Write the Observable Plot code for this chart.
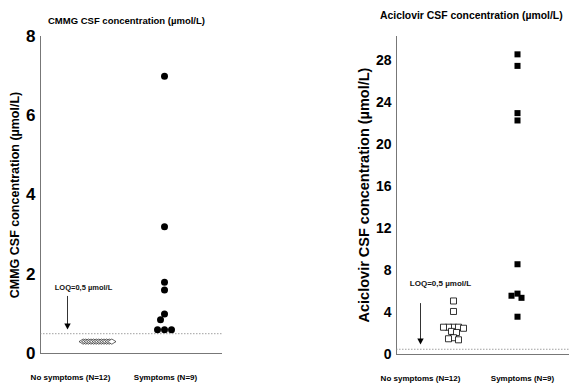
<!DOCTYPE html>
<html><head><meta charset="utf-8">
<script src="https://cdn.jsdelivr.net/npm/d3@7"></script>
<script src="https://cdn.jsdelivr.net/npm/@observablehq/plot@0.6"></script>
<style>
body{margin:0;background:#fff;font-family:"Liberation Sans",Arial,sans-serif;}
#wrap{position:relative;width:571px;height:383px;overflow:hidden;}
.pl{position:absolute;top:0;}
.ttl{position:absolute;font-weight:bold;white-space:nowrap;color:#000;}
.yl{position:absolute;font-weight:bold;white-space:nowrap;transform:translate(-50%,-50%) rotate(-90deg);}
</style></head>
<body><div id="wrap"></div>
<script>
// ---- data ----
const groups = ["No symptoms (N=12)", "Symptoms (N=9)"];
const cmmgNoSymptoms = [0.3,0.3,0.3,0.3,0.3,0.3,0.3,0.3,0.3,0.3,0.3,0.3]; // all < LOQ
const cmmgSymptoms = [7.0, 3.2, 1.8, 1.6, 1.0, 0.85, 0.6, 0.6, 0.6];
const aciNoSymptoms = [5.1, 4.1, 2.6, 2.6, 2.6, 2.6, 2.5, 2.2, 2.1, 1.6, 1.5, 1.4];
const aciSymptoms = [28.6, 27.5, 23.0, 22.3, 8.6, 5.8, 5.6, 5.4, 3.6];
const loq = 0.5;
const cmmgTicks = [0, 2, 4, 6, 8];
const aciTicks = [0, 4, 8, 12, 16, 20, 24, 28];
const loqLabel = "LOQ=0,5 µmol/L";
const cmmgTitle = "CMMG CSF concentration (µmol/L)";
const aciTitle = "Aciclovir CSF concentration (µmol/L)";
// annotation arrow (data units): [top, bottom]
const cmmgArrow = [1.44, 0.63];
const aciArrow = [4.85, 1.05];
const cmmgLoqTextY = 1.67;
const aciLoqTextY = 6.8;

const FONT = '"Liberation Sans", Arial, sans-serif';

// simple beeswarm offsets in pixels
function swarm(vals, k, d) {
  const placed = [];
  return vals.map(v => {
    const y = v * k;
    for (let s = 0; s < 400; s++) {
      const off = s === 0 ? 0 : (s % 2 === 1 ? -Math.ceil(s / 2) : s / 2);
      if (placed.every(p => Math.hypot(off - p.x, y - p.y) >= d)) {
        placed.push({x: off, y});
        return off;
      }
    }
    return 0;
  });
}

const flatDiamond = {
  draw(ctx, size) {
    const w = 4.2, h = 2.6;
    ctx.moveTo(-w, 0); ctx.lineTo(0, -h); ctx.lineTo(w, 0); ctx.lineTo(0, h); ctx.closePath();
  }
};
const downTri = {
  draw(ctx, size) {
    ctx.moveTo(-3.2, -5); ctx.lineTo(3.2, -5); ctx.lineTo(0, 1); ctx.closePath();
  }
};

const wrap = document.getElementById("wrap");
function addDiv(cls, text, style) {
  const d = document.createElement("div");
  d.className = cls; d.textContent = text;
  Object.assign(d.style, style);
  wrap.appendChild(d);
}

// build one panel; x is a linear scale where group i sits at i
function panel(o) {
  const {W, H, mt, mb, ml, mr, yTop, ticks, tickFont, tickPad, gx0, gx1,
         noneVals, symVals, noneDx, symDx, noneSwarm, symSwarm, arrow, arrowDx, textY, textDx, textFont,
         noneMark, symMark} = o;
  const pxPerGroup = gx1 - gx0;
  const xDomain = [(ml - gx0) / pxPerGroup, (W - mr - gx0) / pxPerGroup];
  const k = (H - mt - mb) / yTop;
  const o1 = noneSwarm(noneVals, k);
  const o2 = symSwarm(symVals, k);
  const none = noneVals.map((v, i) => ({x: 0 + (noneDx + o1[i]) / pxPerGroup, v}));
  const sym = symVals.map((v, i) => ({x: 1 + (symDx + o2[i]) / pxPerGroup, v}));
  const ann = [{x: 0 + arrowDx / pxPerGroup, y1: arrow[0], y2: arrow[1]}];
  const lab = [{x: 0 + textDx / pxPerGroup, y: textY, t: loqLabel}];
  return Plot.plot({
    width: W, height: H, marginTop: mt, marginBottom: mb, marginLeft: ml, marginRight: mr,
    style: {fontFamily: FONT, background: "transparent", overflow: "visible"},
    x: {domain: xDomain},
    y: {domain: [0, yTop]},
    marks: [
      Plot.axisY({ticks, tickSize: 0, tickPadding: tickPad, label: null, fontSize: tickFont, fontWeight: "bold", tickFormat: d => d}),
      Plot.axisX({ticks: [0, 1], tickFormat: i => groups[i], tickSize: 0, tickPadding: 21, label: null, fontSize: 8, fontWeight: "bold"}),
      Plot.frame({anchor: "left", stroke: "#777"}),
      Plot.ruleY([0], {stroke: "#777"}),
      Plot.ruleY([loq], {stroke: "#888", strokeDasharray: "1.5,1.5", strokeWidth: 0.8}),
      Plot.ruleX(ann, {x: "x", y1: "y1", y2: "y2", stroke: "#000", strokeWidth: 0.8}),
      Plot.dot(ann, {x: "x", y: "y2", symbol: downTri, fill: "#000", stroke: null}),
      Plot.text(lab, {x: "x", y: "y", text: "t", fontSize: textFont, fontWeight: "bold", fill: "#111"}),
      Plot.dot(none, {x: "x", y: "v", ...noneMark}),
      Plot.dot(sym, {x: "x", y: "v", ...symMark})
    ]
  });
}

// ---------- Left: CMMG ----------
{
  const p = panel({
    W: 290, H: 383, mt: 36, mb: 30, ml: 40, mr: 68, yTop: 8, ticks: cmmgTicks, tickFont: 17, tickPad: 5,
    gx0: 70, gx1: 165,
    noneVals: cmmgNoSymptoms, symVals: cmmgSymptoms, noneDx: 27, symDx: -1,
    noneSwarm: (vals) => vals.map((v, i) => (i - 5.5) * 2.6),
    symSwarm: (vals, k) => swarm(vals, k, 7),
    arrow: cmmgArrow, arrowDx: -3, textY: cmmgLoqTextY, textDx: 13, textFont: 7.5,
    noneMark: {symbol: flatDiamond, fill: "#fff", stroke: "#000", strokeWidth: 0.6},
    symMark: {r: 3.5, fill: "#000", stroke: null}
  });
  p.classList.add("pl"); p.style.left = "0px";
  wrap.appendChild(p);
  addDiv("ttl", cmmgTitle, {left: "48px", top: "15px", fontSize: "9.5px"});
  addDiv("yl", cmmgTitle, {left: "15px", top: "195px", fontSize: "12.5px"});
}

// ---------- Right: Aciclovir ----------
{
  const p = panel({
    W: 281, H: 383, mt: 36, mb: 29, ml: 106, mr: 2, yTop: 30.3, ticks: aciTicks, tickFont: 14, tickPad: 5,
    gx0: 130, gx1: 232,
    noneVals: aciNoSymptoms, symVals: aciSymptoms, noneDx: 33, symDx: -5,
    noneSwarm: (vals, k) => swarm(vals, k, 4.6),
    symSwarm: (vals, k) => swarm(vals, k, 5.5),
    arrow: aciArrow, arrowDx: 0, textY: aciLoqTextY, textDx: 20, textFont: 8,
    noneMark: {symbol: "square", r: 3.4, fill: "#fff", stroke: "#000", strokeWidth: 0.8},
    symMark: {symbol: "square", r: 3.4, fill: "#000", stroke: null}
  });
  p.classList.add("pl"); p.style.left = "290px";
  wrap.appendChild(p);
  addDiv("ttl", aciTitle, {left: "380px", top: "10px", fontSize: "10.4px"});
  addDiv("yl", aciTitle, {left: "364px", top: "195px", fontSize: "14.5px"});
}
</script>
</body></html>
